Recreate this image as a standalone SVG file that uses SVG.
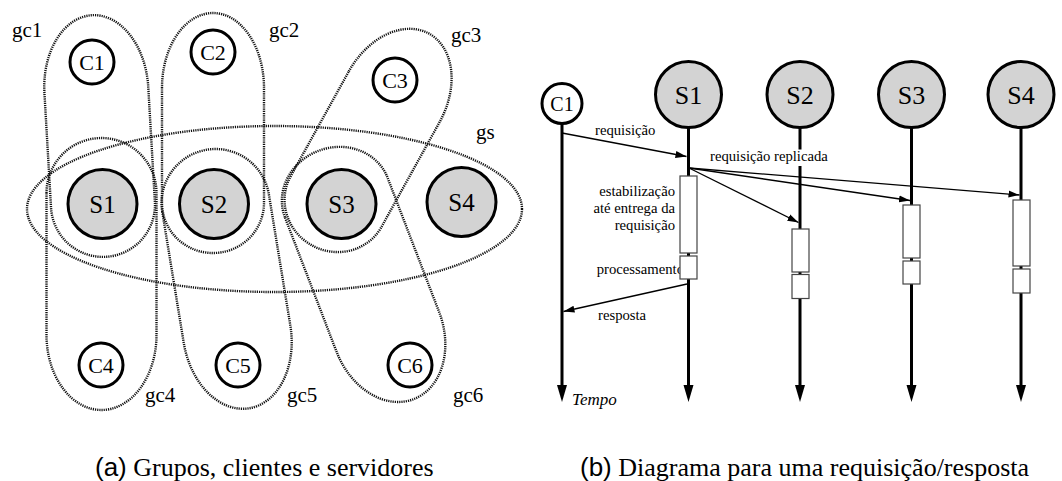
<svg xmlns="http://www.w3.org/2000/svg" width="1062" height="481" viewBox="0 0 1062 481">
<style>
.dot{fill:none;stroke:#111;stroke-width:2.4;stroke-dasharray:1.2 1}
.cl{fill:#fff;stroke:#000;stroke-width:3}
.sv{fill:#d3d3d3;stroke:#000;stroke-width:3}
.nt{font-family:"Liberation Serif","Times New Roman",Tinos,"DejaVu Serif",serif;text-anchor:middle;fill:#000}
.gl{font-family:"Liberation Serif","Times New Roman",Tinos,"DejaVu Serif",serif;font-size:21px;fill:#000}
.life{stroke:#000;stroke-width:3;fill:none;marker-end:url(#la)}
.msg{stroke:#000;stroke-width:1.3;fill:none;marker-end:url(#ah)}
.box{fill:#fff;stroke:#444;stroke-width:1.2}
.t{font-family:"Liberation Serif","Times New Roman",Tinos,"DejaVu Serif",serif;font-size:14.7px;fill:#000}
.ti{font-family:"Liberation Serif","Times New Roman",Tinos,"DejaVu Serif",serif;font-size:17px;font-style:italic;fill:#000}
.cap{font-family:"Liberation Serif","Times New Roman",Tinos,"DejaVu Serif",serif;font-size:26px;fill:#000}
.capl{font-family:"Liberation Sans",Arial,"DejaVu Sans",sans-serif}
</style>
<defs>
<marker id="ah" markerUnits="userSpaceOnUse" markerWidth="11" markerHeight="8" viewBox="0 0 11 8" refX="11" refY="4" orient="auto"><path d="M0,0.5 L11,4 L0,7.5 z" fill="#000"/></marker>
<marker id="la" markerUnits="userSpaceOnUse" markerWidth="18" markerHeight="12" viewBox="0 0 18 12" refX="0" refY="6" orient="auto"><path d="M0,1 L17,6 L0,11 z" fill="#000"/></marker>
</defs>
<rect width="1062" height="481" fill="#fff"/>

<!-- (a) groups -->
<g id="gs"><ellipse class="dot" cx="274.5" cy="209" rx="247.5" ry="83"/><text class="gl" x="476" y="139">gs</text></g>
<g id="gc1"><path class="dot" transform="translate(99,136) rotate(-3.3)" d="M-52,-46 A52,75 0 0 1 52,-46 L52,69 A52,52 0 0 1 -52,69 Z"/><text class="gl" x="12" y="37">gc1</text></g>
<g id="gc2"><path class="dot" transform="translate(213,133)" d="M-51,-45 A51,75 0 0 1 51,-45 L51,70 A51,50 0 0 1 -51,70 Z"/><text class="gl" x="269" y="37">gc2</text></g>
<g id="gc3"><path class="dot" transform="translate(370.5,139.5) rotate(29)" d="M-52,-49 A52,72 0 0 1 52,-49 L52,71 A52,50 0 0 1 -52,71 Z"/><text class="gl" x="451" y="42">gc3</text></g>
<g id="gc4"><path class="dot" transform="translate(101.5,274)" d="M-55,-81 A55,55 0 0 1 55,-81 L55,61 A55,75 0 0 1 -55,61 Z"/><text class="gl" x="145" y="402">gc4</text></g>
<g id="gc5"><path class="dot" transform="translate(228,279) rotate(-9.3)" d="M-54,-77 A54,54 0 0 1 54,-77 L54,56 A54,75 0 0 1 -54,56 Z"/><text class="gl" x="287" y="402">gc5</text></g>
<g id="gc6"><path class="dot" transform="translate(366,275) rotate(-21)" d="M-55,-83 A55,50 0 0 1 55,-83 L55,61 A55,72 0 0 1 -55,61 Z"/><text class="gl" x="453" y="402">gc6</text></g>

<!-- (a) nodes -->
<g id="a-C1"><circle class="cl" cx="92" cy="62" r="22"/><text class="nt" x="92" y="69.5" font-size="22">C1</text></g>
<g id="a-C2"><circle class="cl" cx="213" cy="52" r="22"/><text class="nt" x="213" y="59.5" font-size="22">C2</text></g>
<g id="a-C3"><circle class="cl" cx="395" cy="80" r="22"/><text class="nt" x="395" y="87.5" font-size="22">C3</text></g>
<g id="a-C4"><circle class="cl" cx="101" cy="365" r="22"/><text class="nt" x="101" y="372.5" font-size="22">C4</text></g>
<g id="a-C5"><circle class="cl" cx="238" cy="365" r="22"/><text class="nt" x="238" y="372.5" font-size="22">C5</text></g>
<g id="a-C6"><circle class="cl" cx="410" cy="365" r="22"/><text class="nt" x="410" y="372.5" font-size="22">C6</text></g>
<g id="a-S1"><circle class="sv" cx="102.5" cy="204" r="34.5"/><text class="nt" x="102.5" y="212.5" font-size="25">S1</text></g>
<g id="a-S2"><circle class="sv" cx="214" cy="204" r="34.5"/><text class="nt" x="214" y="212.5" font-size="25">S2</text></g>
<g id="a-S3"><circle class="sv" cx="341.5" cy="204" r="34.5"/><text class="nt" x="341.5" y="212.5" font-size="25">S3</text></g>
<g id="a-S4"><circle class="sv" cx="461.5" cy="202" r="34.5"/><text class="nt" x="461.5" y="210.5" font-size="25">S4</text></g>

<!-- (b) lifelines -->
<g id="lifelines">
<line class="life" x1="562" y1="123.5" x2="562" y2="385"/>
<line class="life" x1="688.5" y1="127.5" x2="688.5" y2="385"/>
<line class="life" x1="800" y1="127.5" x2="800" y2="385"/>
<line class="life" x1="911.5" y1="127.5" x2="911.5" y2="385"/>
<line class="life" x1="1021" y1="127.5" x2="1021" y2="385"/>
</g>
<g id="b-C1"><circle class="cl" cx="562" cy="103.5" r="20"/><text class="nt" x="562" y="110.5" font-size="20">C1</text></g>
<g id="b-S1"><circle class="sv" cx="688.5" cy="94.5" r="33"/><text class="nt" x="688.5" y="103.5" font-size="26">S1</text></g>
<g id="b-S2"><circle class="sv" cx="800" cy="94.5" r="33"/><text class="nt" x="800" y="103.5" font-size="26">S2</text></g>
<g id="b-S3"><circle class="sv" cx="911.5" cy="94.5" r="33"/><text class="nt" x="911.5" y="103.5" font-size="26">S3</text></g>
<g id="b-S4"><circle class="sv" cx="1021" cy="94.5" r="33"/><text class="nt" x="1021" y="103.5" font-size="26">S4</text></g>

<!-- labels -->
<text class="t" x="595" y="135">requisição</text>
<rect x="706" y="149.5" width="132" height="16.5" fill="#fff"/>
<text class="t" x="710" y="160.5">requisição replicada</text>
<text class="t" text-anchor="end" x="675" y="196">estabilização</text>
<text class="t" text-anchor="end" x="675" y="213">até entrega da</text>
<text class="t" text-anchor="end" x="675" y="230">requisição</text>
<text class="t" text-anchor="end" x="684" y="273.5">processamento</text>
<text class="t" x="598" y="320">resposta</text>
<text class="ti" x="572" y="405">Tempo</text>

<!-- activation boxes -->
<g id="boxes">
<rect class="box" x="680" y="176" width="17" height="77"/>
<rect class="box" x="680" y="256" width="17" height="23"/>
<rect class="box" x="792" y="229" width="17" height="43"/>
<rect class="box" x="792" y="274.5" width="17" height="24"/>
<rect class="box" x="903" y="205" width="17" height="53"/>
<rect class="box" x="903" y="261" width="17" height="23"/>
<rect class="box" x="1013" y="200" width="17" height="66"/>
<rect class="box" x="1013" y="269" width="17" height="24"/>
</g>

<!-- messages -->
<g id="connectors">
<line class="msg" x1="562" y1="133" x2="686.5" y2="156.5"/>
<line class="msg" x1="689" y1="168" x2="798.5" y2="222.5"/>
<line class="msg" x1="689" y1="168" x2="910" y2="200.5"/>
<line class="msg" x1="689" y1="168" x2="1019.5" y2="195"/>
<line class="msg" x1="687" y1="284" x2="563.5" y2="311.5"/>
</g>

<!-- captions -->
<text class="cap" x="95" y="476"><tspan class="capl">(a)</tspan> Grupos, clientes e servidores</text>
<text class="cap" x="580" y="476"><tspan class="capl">(b)</tspan> Diagrama para uma requisição/resposta</text>
</svg>
